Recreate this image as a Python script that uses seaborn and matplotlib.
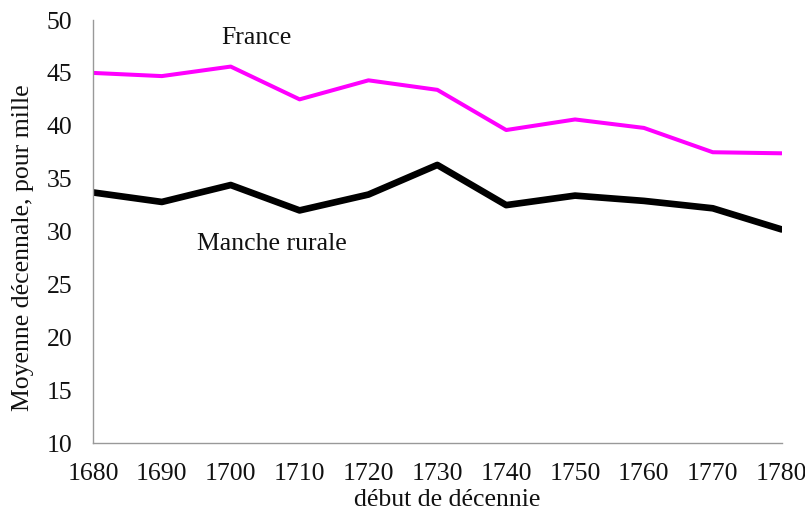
import matplotlib
matplotlib.use("Agg")
import matplotlib.pyplot as plt
import seaborn as sns
import pandas as pd

years = [1680, 1690, 1700, 1710, 1720, 1730, 1740, 1750, 1760, 1770, 1780]
france = [45.0, 44.7, 45.6, 42.5, 44.3, 43.4, 39.6, 40.6, 39.8, 37.5, 37.4]
manche = [33.7, 32.8, 34.4, 32.0, 33.5, 36.3, 32.5, 33.4, 32.9, 32.2, 30.2]
yticks = [10, 15, 20, 25, 30, 35, 40, 45, 50]

sns.set_theme(style="white")
plt.rcParams['font.family'] = ['Liberation Serif', 'DejaVu Serif']

df = pd.DataFrame({"year": years, "France": france, "Manche rurale": manche})

fig = plt.figure(figsize=(8.05, 5.14), dpi=100)
ax = fig.add_axes([0.1155, 0.138, 0.8555, 0.823])
sns.lineplot(data=df, x="year", y="France", ax=ax, color="#ff00ff", linewidth=2.9)
sns.lineplot(data=df, x="year", y="Manche rurale", ax=ax, color="black", linewidth=4.8)

ax.set_xlim(1680, 1780)
ax.set_ylim(10, 50)
ax.set_xticks(years)
ax.set_yticks(yticks)
ax.tick_params(axis="both", labelsize=18.5, colors="#888888", labelcolor="#111111",
               direction="out", length=5, width=0.8)
ax.tick_params(axis="x", pad=9)
ax.tick_params(axis="y", pad=10)
for s in ["top", "right"]:
    ax.spines[s].set_visible(False)
for s in ["left", "bottom"]:
    ax.spines[s].set_color("#999999")
    ax.spines[s].set_linewidth(1)
ax.set_xlabel("début de décennie", fontsize=18.5, color="#111111")
ax.set_ylabel("Moyenne décennale, pour mille", fontsize=18.5, color="#111111")
ax.xaxis.set_label_coords(0.514, -0.108)
ax.yaxis.set_label_coords(-0.086, 0.461)

ax.text(1698.7, 48.3, "France", fontsize=18.5, va="center", color="#111111")
ax.text(1695.1, 28.8, "Manche rurale", fontsize=18.5, va="center", color="#111111")

fig.savefig("out.png", dpi=100)
